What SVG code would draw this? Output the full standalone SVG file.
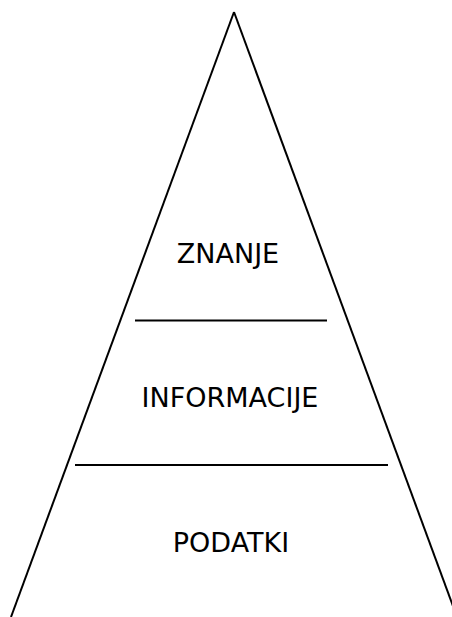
<svg xmlns="http://www.w3.org/2000/svg" width="452" height="617" viewBox="0 0 452 617">
<style>
.l{stroke:#000;stroke-width:2;fill:none}
.t{font-family:"DejaVu Sans",Verdana,sans-serif;font-size:27px;fill:#000;text-anchor:middle}
</style>
<rect width="452" height="617" fill="#fff"/>
<g id="connectors">
<line class="l" x1="234" y1="12" x2="11" y2="617"/>
<line class="l" x1="234" y1="12" x2="457" y2="617"/>
<line class="l" x1="135" y1="320.5" x2="327" y2="320.5"/>
<line class="l" x1="75" y1="465" x2="388" y2="465"/>
</g>
<g id="znanje"><text class="t" x="228" y="263">ZNANJE</text></g>
<g id="informacije"><text class="t" x="230" y="407">INFORMACIJE</text></g>
<g id="podatki"><text class="t" x="231" y="552">PODATKI</text></g>
</svg>
